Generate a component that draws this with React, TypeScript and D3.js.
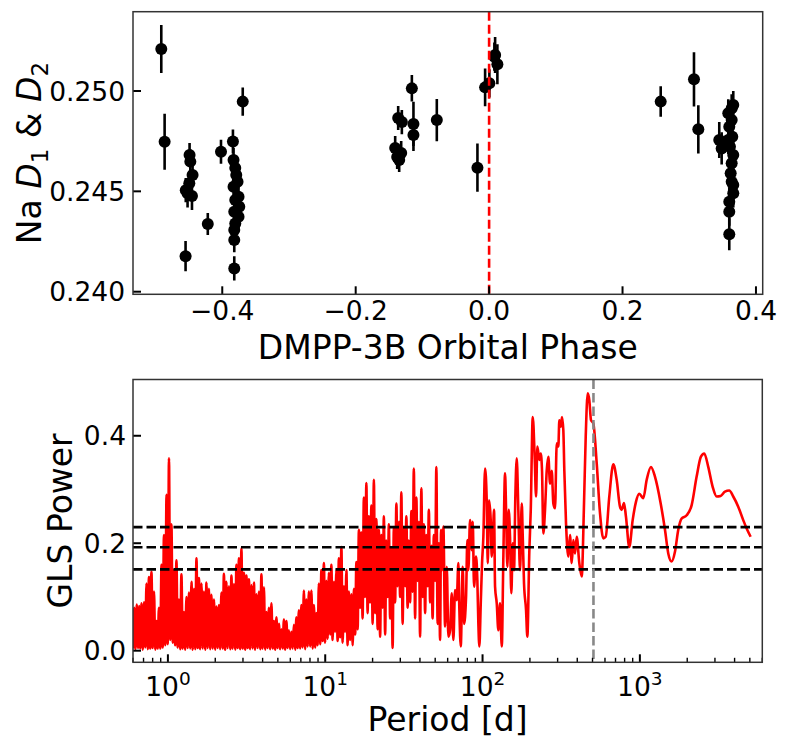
import React from "react";
import * as d3 from "d3";

// ---------- Top panel: Na D1 & D2 index vs orbital phase ----------
const phase = [
  -0.4914, -0.4864, -0.449, -0.4479, -0.4445, -0.4494, -0.452, -0.4454, -0.4547, -0.455,
  -0.4217, -0.4019, -0.384, -0.3831, -0.3805, -0.379, -0.3771, -0.3831, -0.3756, -0.3805,
  -0.3745, -0.382, -0.3756, -0.3805, -0.382, -0.382, -0.382, -0.3693,
  -0.1408, -0.1378, -0.1348, -0.1318, -0.1363, -0.1308, -0.1158, -0.1134, -0.1134, -0.0784,
  -0.0175, -0.006, 0.0004, 0.0079, 0.009, 0.0124,
  0.2572, 0.3071, 0.3136, 0.345, 0.3486, 0.366, 0.3636, 0.3585, 0.3636, 0.36, 0.3645,
  0.3585, 0.361, 0.366, 0.3636, 0.3621, 0.3636, 0.366, 0.366, 0.36, 0.36, 0.36,
];
const naD = [
  0.25209, 0.24747, 0.24681, 0.24648, 0.24581, 0.2454, 0.2449, 0.24477, 0.24506, 0.24177,
  0.24337, 0.24697, 0.24748, 0.24656, 0.24616, 0.24581, 0.24548, 0.24523, 0.24473, 0.24457,
  0.24423, 0.24398, 0.24373, 0.2434, 0.24307, 0.24257, 0.24116, 0.24947,
  0.24716, 0.24671, 0.24656, 0.24691, 0.24865, 0.24845, 0.25013, 0.24836, 0.24781, 0.24855,
  0.24618, 0.25018, 0.25038, 0.25171, 0.25179, 0.25133,
  0.24947, 0.25058, 0.24809, 0.24756, 0.24714, 0.2493, 0.24914, 0.24889, 0.24855, 0.24822, 0.24772,
  0.24756, 0.24722, 0.24681, 0.2464, 0.2459, 0.24548, 0.24531, 0.2449, 0.24448, 0.24398, 0.24286,
];
const naErr = [
  0.0012, 0.0014, 0.0006, 0.0006, 0.0006, 0.0006, 0.0007, 0.0007, 0.0006, 0.00075,
  0.00055, 0.0006, 0.0006, 0.0006, 0.0006, 0.0006, 0.0006, 0.0006, 0.0006, 0.0006,
  0.0006, 0.0006, 0.0006, 0.0006, 0.0006, 0.0006, 0.0006, 0.0007,
  0.0006, 0.0006, 0.0006, 0.0006, 0.0006, 0.0006, 0.00066, 0.0011, 0.0008, 0.00105,
  0.0012, 0.00094, 0.0007, 0.0007, 0.0009, 0.001,
  0.00076, 0.00135, 0.0012, 0.0009, 0.0008, 0.0007, 0.0007, 0.0007, 0.0007, 0.0007, 0.0007,
  0.0007, 0.0007, 0.0007, 0.0007, 0.0007, 0.0007, 0.0007, 0.0007, 0.0007, 0.0007, 0.0008,
];
const phaseTicks = [-0.4, -0.2, 0, 0.2, 0.4];
const phaseTickLabels = ["\u22120.4", "\u22120.2", "0.0", "0.2", "0.4"];
const naTicks = [0.24, 0.245, 0.25];
const naTickLabels = ["0.240", "0.245", "0.250"];
const conjunctionPhase = 0;

// ---------- Bottom panel: GLS periodogram [period (d), power] ----------
const glsPeriodogram: [number, number][] = [
  [0.600, 0.004], [0.611, 0.080], [0.622, 0.003], [0.634, 0.086], [0.646, 0.005], [0.657, 0.083],
  [0.667, 0.004], [0.679, 0.088], [0.692, 0.002], [0.705, 0.090], [0.718, 0.006], [0.731, 0.125], [0.744, 0.003], [0.758, 0.137],
  [0.772, 0.004], [0.786, 0.147], [0.801, 0.005], [0.816, 0.110], [0.831, 0.002], [0.846, 0.055], [0.862, 0.004], [0.877, 0.080],
  [0.894, 0.004], [0.911, 0.160], [0.927, 0.006], [0.944, 0.215], [0.962, 0.010], [0.980, 0.290], [0.998, 0.012], [1.016, 0.358],
  [1.034, 0.020], [1.053, 0.235], [1.073, 0.015], [1.092, 0.150], [1.112, 0.010], [1.133, 0.168], [1.154, 0.006], [1.175, 0.095],
  [1.197, 0.003], [1.219, 0.142], [1.242, 0.004], [1.265, 0.072], [1.288, 0.002], [1.312, 0.100], [1.336, 0.005], [1.361, 0.108],
  [1.386, 0.004], [1.412, 0.128], [1.438, 0.002], [1.464, 0.115], [1.491, 0.003], [1.519, 0.172], [1.547, 0.005], [1.575, 0.135],
  [1.604, 0.003], [1.634, 0.125], [1.664, 0.004], [1.694, 0.110], [1.726, 0.002], [1.758, 0.127], [1.790, 0.005], [1.823, 0.115],
  [1.857, 0.003], [1.891, 0.104], [1.926, 0.004], [1.962, 0.095], [1.998, 0.002], [2.035, 0.082], [2.072, 0.005], [2.111, 0.085],
  [2.149, 0.003], [2.189, 0.108], [2.229, 0.004], [2.270, 0.143], [2.312, 0.002], [2.355, 0.128], [2.398, 0.005], [2.443, 0.120],
  [2.488, 0.003], [2.534, 0.140], [2.581, 0.004], [2.628, 0.124], [2.677, 0.002], [2.726, 0.160], [2.777, 0.005], [2.828, 0.172],
  [2.880, 0.003], [2.933, 0.190], [2.987, 0.004], [3.042, 0.145], [3.099, 0.002], [3.156, 0.140], [3.214, 0.005], [3.273, 0.133],
  [3.334, 0.003], [3.396, 0.122], [3.458, 0.004], [3.522, 0.127], [3.587, 0.002], [3.653, 0.105], [3.721, 0.005], [3.789, 0.110],
  [3.859, 0.003], [3.930, 0.142], [4.003, 0.004], [4.077, 0.118], [4.152, 0.002], [4.229, 0.072], [4.307, 0.005], [4.386, 0.080],
  [4.467, 0.003], [4.550, 0.088], [4.634, 0.004], [4.719, 0.055], [4.806, 0.002], [4.895, 0.062], [4.985, 0.005], [5.077, 0.050],
  [5.170, 0.003], [5.266, 0.040], [5.363, 0.004], [5.462, 0.058], [5.562, 0.002], [5.665, 0.055], [5.770, 0.005], [5.876, 0.038],
  [5.984, 0.003], [6.095, 0.035], [6.207, 0.004], [6.322, 0.048], [6.438, 0.002], [6.557, 0.062], [6.678, 0.005], [6.801, 0.075],
  [6.927, 0.004], [7.055, 0.085], [7.185, 0.006], [7.318, 0.112], [7.453, 0.003], [7.591, 0.095], [7.731, 0.008], [7.873, 0.110],
  [8.018, 0.008], [8.166, 0.112], [8.317, 0.004], [8.470, 0.085], [8.627, 0.006], [8.786, 0.070], [8.948, 0.010], [9.113, 0.125],
  [9.282, 0.012], [9.454, 0.150], [9.628, 0.018], [9.806, 0.163], [9.987, 0.015], [10.17, 0.130], [10.36, 0.022], [10.55, 0.145],
  [10.74, 0.030], [10.94, 0.160], [11.14, 0.020], [11.35, 0.128], [11.56, 0.035], [11.77, 0.150], [11.99, 0.018], [12.21, 0.172],
  [12.44, 0.025], [12.67, 0.193], [12.90, 0.015], [13.14, 0.120], [13.38, 0.035], [13.63, 0.150], [13.88, 0.010], [14.14, 0.110],
  [14.40, 0.020], [14.67, 0.105], [14.94, 0.010], [15.21, 0.115], [15.49, 0.030], [15.78, 0.165], [16.07, 0.040], [16.37, 0.225],
  [16.66, 0.080], [16.97, 0.220], [17.28, 0.060], [17.60, 0.285], [17.92, 0.100], [18.26, 0.312], [18.59, 0.070], [18.94, 0.250],
  [19.29, 0.090], [19.65, 0.270], [20.01, 0.050], [20.38, 0.318], [20.75, 0.070], [21.14, 0.245], [21.53, 0.040], [21.93, 0.225],
  [22.33, 0.026], [22.74, 0.215], [23.16, 0.080], [23.59, 0.250], [24.03, 0.030], [24.47, 0.205], [24.92, 0.100], [25.38, 0.235],
  [25.85, 0.060], [26.33, 0.190], [26.81, 0.005], [27.31, 0.230], [27.81, 0.090], [28.33, 0.274], [28.85, 0.120], [29.38, 0.240],
  [29.92, 0.100], [30.47, 0.295], [31.04, 0.050], [31.61, 0.230], [32.19, 0.120], [32.79, 0.250], [33.39, 0.080], [34.01, 0.205],
  [34.63, 0.090], [35.27, 0.260], [35.92, 0.110], [36.58, 0.339], [37.26, 0.060], [37.95, 0.285], [38.65, 0.130], [39.36, 0.240],
  [40.09, 0.026], [40.83, 0.302], [41.59, 0.100], [42.35, 0.235], [43.13, 0.070], [43.93, 0.215], [44.74, 0.120], [45.57, 0.262],
  [46.41, 0.090], [47.27, 0.195], [48.14, 0.060], [49.03, 0.215], [49.93, 0.130], [50.86, 0.342], [51.79, 0.050], [52.75, 0.200],
  [53.70, 0.020], [54.49, 0.225], [55.29, 0.150], [56.36, 0.231], [57.78, 0.045], [59.23, 0.156], [60.64, 0.026], [62.16, 0.038],
  [63.73, 0.107], [65.24, 0.020], [66.88, 0.113], [68.56, 0.094], [70.19, 0.163], [71.23, 0.076], [72.68, 0.008], [74.84, 0.156],
  [76.28, 0.050], [78.54, 0.100], [80.06, 0.206], [81.23, 0.150], [83.28, 0.243], [85.38, 0.187], [86.64, 0.240], [88.30, 0.119],
  [90.93, 0.175], [92.67, 0.131], [94.04, 0.051], [95.43, 0.008], [97.40, 0.088], [99.27, 0.163], [101.2, 0.212], [103.7, 0.339],
  [106.3, 0.280], [107.9, 0.163], [110.0, 0.280], [112.7, 0.243], [114.4, 0.175], [116.1, 0.200], [118.3, 0.262], [120.1, 0.119],
  [123.1, 0.088], [126.0, 0.038], [129.2, 0.088], [132.5, 0.008], [135.6, 0.175], [139.0, 0.330], [141.1, 0.262], [143.8, 0.156],
  [146.7, 0.262], [149.5, 0.212], [152.4, 0.107], [155.5, 0.200], [158.5, 0.150], [161.6, 0.287], [164.9, 0.358], [168.8, 0.262],
  [173.1, 0.150], [177.5, 0.274], [180.1, 0.212], [183.5, 0.125], [189.0, 0.076], [192.6, 0.026], [198.4, 0.187], [202.5, 0.262],
  [208.5, 0.435], [214.7, 0.355], [218.8, 0.287], [223.0, 0.380], [229.6, 0.355], [234.3, 0.367], [238.8, 0.335], [243.4, 0.218],
  [249.5, 0.262], [255.8, 0.335], [261.9, 0.361], [268.5, 0.311], [275.3, 0.335], [281.8, 0.274], [288.9, 0.265], [296.2, 0.386],
  [303.2, 0.380], [307.7, 0.429], [314.0, 0.417], [320.0, 0.435], [326.2, 0.410], [331.0, 0.335], [339.3, 0.237], [351.0, 0.175],
  [359.7, 0.215], [368.8, 0.163], [377.5, 0.206], [387.0, 0.181], [396.8, 0.212], [412.2, 0.163], [426.9, 0.138], [441.5, 0.274],
  [452.6, 0.398], [466.1, 0.479], [477.2, 0.466], [489.1, 0.429], [505.9, 0.423], [531.6, 0.349], [557.9, 0.256], [585.5, 0.209],
  [606.4, 0.212], [639.3, 0.287], [677.7, 0.347], [712.2, 0.318], [747.4, 0.268], [766.2, 0.262], [792.5, 0.275], [816.0, 0.249],
  [856.5, 0.193], [899.9, 0.243], [944.4, 0.277], [991.2, 0.292], [1051, 0.284], [1105, 0.318], [1176, 0.342], [1247, 0.324],
  [1356, 0.274], [1444, 0.225], [1515, 0.181], [1592, 0.166], [1671, 0.184], [1754, 0.225], [1843, 0.246], [1983, 0.252],
  [2134, 0.271], [2295, 0.324], [2444, 0.361], [2565, 0.367], [2720, 0.342], [2901, 0.305], [3076, 0.287], [3261, 0.288],
  [3473, 0.296], [3699, 0.298], [3921, 0.287], [4219, 0.268], [4539, 0.243], [4812, 0.225], [5058, 0.212],
];
const fapLevels = [0.23, 0.1924, 0.1514];
const orbitalPeriod = 507;
const powerTicks = [0, 0.2, 0.4];
const powerTickLabels = ["0.0", "0.2", "0.4"];
const periodMajor = [1, 10, 100, 1000];
const periodMajorExp = ["0", "1", "2", "3"];

const FONT = "DejaVu Sans";
const TICK_FS = 26.5;

export default function App() {
  const T = { l: 133, r: 762.7, t: 11.7, b: 294.3 };
  const B = { l: 133, r: 762.3, t: 379.5, b: 662.3 };

  const xTop = d3.scaleLinear().domain([-0.5338, 0.4101]).range([T.l, T.r]);
  const yTop = d3.scaleLinear().domain([0.23987, 0.25395]).range([T.b, T.t]);
  const xBot = d3.scaleLog().domain([0.6, 6000]).range([B.l, B.r]);
  const yBot = d3.scaleLinear().domain([-0.0216, 0.5047]).range([B.b, B.t]);

  const glsLine = d3
    .line<[number, number]>()
    .x((d) => xBot(d[0]))
    .y((d) => yBot(d[1]))
    .curve(d3.curveMonotoneX);

  const minorTicks = xBot
    .ticks()
    .filter((t) => Math.abs(Math.log10(t) - Math.round(Math.log10(t))) > 1e-6);

  return (
    <svg
      width={790}
      height={746}
      style={{ position: "absolute", left: 0, top: 0, display: "block", background: "#fff" }}
      fontFamily={FONT}
    >
      <defs>
        <clipPath id="clipTop">
          <rect x={T.l} y={T.t} width={T.r - T.l} height={T.b - T.t} />
        </clipPath>
        <clipPath id="clipBot">
          <rect x={B.l} y={B.t} width={B.r - B.l} height={B.b - B.t} />
        </clipPath>
      </defs>
      <rect x={0} y={0} width={790} height={746} fill="#fff" />

      {/* ---------- TOP PANEL ---------- */}
      <g clipPath="url(#clipTop)">
        {phase.map((p, i) => (
          <line
            key={"e" + i}
            x1={xTop(p)}
            x2={xTop(p)}
            y1={yTop(naD[i] - naErr[i])}
            y2={yTop(naD[i] + naErr[i])}
            stroke="#000"
            strokeWidth={2.6}
          />
        ))}
        {phase.map((p, i) => (
          <circle key={"c" + i} cx={xTop(p)} cy={yTop(naD[i])} r={6} fill="#000" />
        ))}
        <line
          x1={xTop(conjunctionPhase)}
          x2={xTop(conjunctionPhase)}
          y1={T.t}
          y2={T.b}
          stroke="#ff0000"
          strokeWidth={2.6}
          strokeDasharray="9,4"
        />
      </g>
      {naTicks.map((t, i) => (
        <g key={"ny" + i}>
          <line x1={T.l} x2={T.l + 8} y1={yTop(t)} y2={yTop(t)} stroke="#000" strokeWidth={2} />
          <text x={125} y={yTop(t)} dy="0.36em" textAnchor="end" fontSize={TICK_FS}>
            {naTickLabels[i]}
          </text>
        </g>
      ))}
      {phaseTicks.map((t, i) => (
        <g key={"px" + i}>
          <line x1={xTop(t)} x2={xTop(t)} y1={T.b} y2={T.b - 8} stroke="#000" strokeWidth={2} />
          <text x={xTop(t)} y={320} textAnchor="middle" fontSize={TICK_FS}>
            {phaseTickLabels[i]}
          </text>
        </g>
      ))}
      <rect x={T.l} y={T.t} width={T.r - T.l} height={T.b - T.t} fill="none" stroke="#333" strokeWidth={1.5} />
      <text x={(T.l + T.r) / 2} y={359} textAnchor="middle" fontSize={33}>
        DMPP-3B Orbital Phase
      </text>
      <text transform={`translate(41,${(T.t + T.b) / 2}) rotate(-90)`} textAnchor="middle" fontSize={33}>
        <tspan>Na </tspan>
        <tspan fontStyle="italic">D</tspan>
        <tspan fontSize={23} dy={7}>1</tspan>
        <tspan dy={-7}> &amp; </tspan>
        <tspan fontStyle="italic">D</tspan>
        <tspan fontSize={23} dy={7}>2</tspan>
      </text>

      {/* ---------- BOTTOM PANEL ---------- */}
      <g clipPath="url(#clipBot)">
        <path
          d={glsLine(glsPeriodogram) || ""}
          fill="none"
          stroke="#ff0000"
          strokeWidth={2.6}
          strokeLinejoin="round"
        />
        {fapLevels.map((f, i) => (
          <line
            key={"f" + i}
            x1={B.l}
            x2={B.r}
            y1={yBot(f)}
            y2={yBot(f)}
            stroke="#000"
            strokeWidth={2.6}
            strokeDasharray="9.5,4"
          />
        ))}
        <line
          x1={xBot(orbitalPeriod)}
          x2={xBot(orbitalPeriod)}
          y1={B.t}
          y2={B.b}
          stroke="#888"
          strokeWidth={2.6}
          strokeDasharray="9.5,4"
        />
      </g>
      {powerTicks.map((t, i) => (
        <g key={"gy" + i}>
          <line x1={B.l} x2={B.l + 8} y1={yBot(t)} y2={yBot(t)} stroke="#000" strokeWidth={2} />
          <text x={126} y={yBot(t)} dy="0.36em" textAnchor="end" fontSize={TICK_FS}>
            {powerTickLabels[i]}
          </text>
        </g>
      ))}
      {minorTicks.map((t, i) => (
        <line key={"mt" + i} x1={xBot(t)} x2={xBot(t)} y1={B.b} y2={B.b - 4.5} stroke="#000" strokeWidth={1.4} />
      ))}
      {periodMajor.map((t, i) => (
        <g key={"pm" + i}>
          <line x1={xBot(t)} x2={xBot(t)} y1={B.b} y2={B.b - 8} stroke="#000" strokeWidth={2} />
          <text x={xBot(t)} y={696} textAnchor="middle" fontSize={TICK_FS}>
            <tspan>10</tspan>
            <tspan fontSize={18.5} dy={-11.5}>
              {periodMajorExp[i]}
            </tspan>
          </text>
        </g>
      ))}
      <rect x={B.l} y={B.t} width={B.r - B.l} height={B.b - B.t} fill="none" stroke="#333" strokeWidth={1.5} />
      <text x={(B.l + B.r) / 2} y={731} textAnchor="middle" fontSize={33}>
        Period [d]
      </text>
      <text transform={`translate(72,${(B.t + B.b) / 2}) rotate(-90)`} textAnchor="middle" fontSize={33}>
        GLS Power
      </text>
    </svg>
  );
}
